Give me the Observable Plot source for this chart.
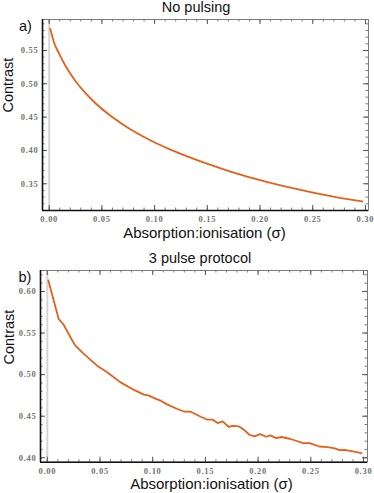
<!DOCTYPE html>
<html>
<head>
<meta charset="utf-8">
<script src="https://cdn.jsdelivr.net/npm/d3@7"></script>
<script src="https://cdn.jsdelivr.net/npm/@observablehq/plot@0.6"></script>
<style>
  html, body { margin: 0; padding: 0; background: #fff; }
  #chart svg { display: block; }
  g[aria-label="x-axis tick label"] text,
  g[aria-label="y-axis tick label"] text { letter-spacing: 0.7px; }
</style>
</head>
<body>
<div id="chart"></div>
<script>
// ---------- Data ----------
const titles = ["No pulsing", "3 pulse protocol"];
const panelLabels = ["a)", "b)"];
const xLabel = "Absorption:ionisation (σ)";
const yLabel = "Contrast";

const sigmaA = [0.001, 0.0045, 0.0095, 0.0158, 0.0252, 0.0347, 0.0442, 0.0569, 0.0695, 0.0822, 0.0949,
  0.115, 0.134, 0.153, 0.172, 0.191, 0.210, 0.229, 0.248, 0.267, 0.286, 0.297];
const contrastA = [0.5826, 0.5625, 0.545, 0.526, 0.5035, 0.4855, 0.4705, 0.4535, 0.4395, 0.427, 0.4161,
  0.4013, 0.3893, 0.3783, 0.3683, 0.3594, 0.3515, 0.3442, 0.3376, 0.3316, 0.3262, 0.3234];

const sigmaB = [0.001, 0.0108, 0.0155, 0.026, 0.0346, 0.0473, 0.0568, 0.0695, 0.0822, 0.0917, 0.0965,
  0.1015, 0.105, 0.1076, 0.114, 0.1235, 0.130, 0.136, 0.1457, 0.152, 0.157, 0.1616, 0.1664, 0.172,
  0.176, 0.182, 0.187, 0.1917, 0.1965, 0.202, 0.2076, 0.2117, 0.2171, 0.222, 0.230, 0.236, 0.2426,
  0.249, 0.258, 0.266, 0.2727, 0.2775, 0.282, 0.290, 0.298];
const contrastB = [0.6133, 0.567, 0.560, 0.5358, 0.5249, 0.5108, 0.5028, 0.4907, 0.4816, 0.4759, 0.4747,
  0.4718, 0.4700, 0.4687, 0.4639, 0.4587, 0.4554, 0.4554, 0.4494, 0.4458, 0.4458, 0.4418, 0.4437, 0.4373,
  0.4385, 0.4377, 0.4333, 0.4277, 0.4257, 0.4285, 0.4253, 0.4269, 0.4237, 0.425, 0.4229, 0.4205, 0.4177,
  0.4177, 0.4136, 0.4129, 0.4112, 0.4093, 0.4096, 0.4076, 0.4057];

const xTicks = [0, 0.05, 0.10, 0.15, 0.20, 0.25, 0.30];
const yTicksA = [0.35, 0.40, 0.45, 0.50, 0.55];
const yTicksB = [0.40, 0.45, 0.50, 0.55, 0.60];

// ---------- Drawing ----------
const lineColor = "#e4601b";
const tickFont = "Liberation Serif, DejaVu Serif, serif";
const textFont = "Liberation Sans, Arial, sans-serif";
const minor = (lo, hi) => d3.range(Math.round(lo * 100), Math.round(hi * 100) + 1).map(v => v / 100);

function panel(cfg) {
  const {sigma, contrast, xDomain, yDomain, yTicks, yMinor, width, height, mt, mr, mb, ml, curve, text} = cfg;
  const data = sigma.map((s, i) => ({s, c: contrast[i]}));
  const innerW = width - ml - mr;
  const innerH = height - mt - mb;
  const xMinor = minor(0, 0.30);
  const majL = 5, minL = 2.5, tickStroke = "#555";
  const tickLabelOpts = {fontFamily: tickFont, fontWeight: "bold", fontSize: 8.5, fill: "#737373", label: null};
  const txt = (s, o) => Plot.text([s], {text: d => d, fontFamily: textFont, fontSize: 14.5, fill: "#111", lineAnchor: "middle", ...o});
  return Plot.plot({
    width, height,
    marginTop: mt, marginRight: mr, marginBottom: mb, marginLeft: ml,
    x: {domain: xDomain, axis: null},
    y: {domain: yDomain, axis: null},
    style: {background: "#fff", overflow: "visible"},
    marks: [
      Plot.ruleX([0], {stroke: "#d6d6d6", strokeWidth: 2}),
      // minor ticks (all four sides, inward)
      Plot.tickX(xMinor, {x: d => d, stroke: tickStroke, strokeWidth: 0.8, insetTop: innerH - minL}),
      Plot.tickX(xMinor, {x: d => d, stroke: tickStroke, strokeWidth: 0.8, insetBottom: innerH - minL}),
      Plot.tickY(yMinor, {y: d => d, stroke: tickStroke, strokeWidth: 0.8, insetRight: innerW - minL}),
      Plot.tickY(yMinor, {y: d => d, stroke: tickStroke, strokeWidth: 0.8, insetLeft: innerW - minL}),
      // major ticks
      Plot.tickX(xTicks, {x: d => d, stroke: tickStroke, strokeWidth: 1, insetTop: innerH - majL}),
      Plot.tickX(xTicks, {x: d => d, stroke: tickStroke, strokeWidth: 1, insetBottom: innerH - majL}),
      Plot.tickY(yTicks, {y: d => d, stroke: tickStroke, strokeWidth: 1, insetRight: innerW - majL}),
      Plot.tickY(yTicks, {y: d => d, stroke: tickStroke, strokeWidth: 1, insetLeft: innerW - majL}),
      Plot.frame({stroke: "#7a7a7a", strokeWidth: 1}),
      Plot.ruleX([xDomain[0]], {stroke: "#111", strokeWidth: 1.6}),
      Plot.ruleY([yDomain[0]], {stroke: "#111", strokeWidth: 1.6}),
      Plot.line(data, {x: "s", y: "c", stroke: lineColor, strokeWidth: 1.8, curve}),
      // tick labels
      Plot.axisX(xTicks, {anchor: "bottom", tickSize: 0, tickPadding: 5.5, tickFormat: d3.format(".2f"), ...tickLabelOpts}),
      Plot.axisY(yTicks, {anchor: "left", tickSize: 0, tickPadding: 4, tickFormat: d3.format(".2f"), ...tickLabelOpts}),
      // texts
      txt(text.title, {frameAnchor: "top", dx: text.titleDx, dy: text.titleDy}),
      txt(text.panel, {frameAnchor: "top-left", textAnchor: "middle", dx: text.panelDx, dy: text.panelDy}),
      txt(yLabel, {frameAnchor: "left", rotate: -90, dx: text.yDx, dy: text.yDy}),
      txt(xLabel, {frameAnchor: "bottom", dx: text.xDx, dy: text.xDy, fontSize: 15})
    ]
  });
}

const root = document.getElementById("chart");

root.appendChild(panel({
  sigma: sigmaA, contrast: contrastA,
  xDomain: [-0.00636, 0.3029], yDomain: [0.3099, 0.5965],
  yTicks: yTicksA, yMinor: minor(0.31, 0.59),
  width: 374, height: 245, mt: 19, mr: 6, mb: 35, ml: 42,
  curve: "monotone-x",
  text: {title: titles[0], titleDx: -9.5, titleDy: -12, panel: panelLabels[0], panelDx: -17, panelDy: 7,
         yDx: -34.5, yDy: -2.5, xDx: -1, xDy: 23}
}));

root.appendChild(panel({
  sigma: sigmaB, contrast: contrastB,
  xDomain: [-0.00645, 0.3038], yDomain: [0.3947, 0.6252],
  yTicks: yTicksB, yMinor: minor(0.40, 0.62),
  width: 374, height: 248, mt: 25, mr: 7, mb: 31.3, ml: 40,
  curve: "linear",
  text: {title: titles[1], titleDx: -4, titleDy: -12, panel: panelLabels[1], panelDx: -15.5, panelDy: 7,
         yDx: -31, yDy: -1.85, xDx: 7.5, xDy: 22.3}
}));
</script>
</body>
</html>
